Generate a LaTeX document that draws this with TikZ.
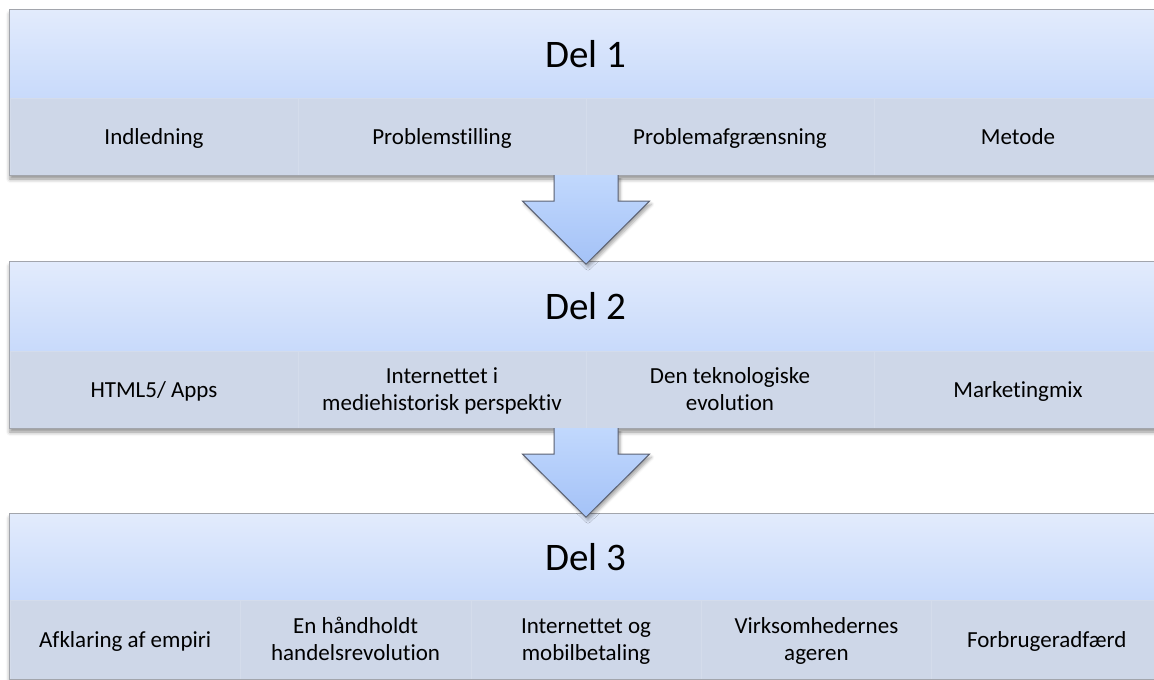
\documentclass[tikz,border=0pt]{standalone}
\usepackage{fontspec}
\setmainfont{Carlito}[Ligatures={NoCommon}]
\usetikzlibrary{shadows.blur,calc}

\definecolor{hdrtop}{HTML}{E2EBFC}
\definecolor{hdrbot}{HTML}{C8DAFB}
\definecolor{cellfill}{HTML}{CED7E8}
\definecolor{cellsep}{HTML}{D4DCEB}
\definecolor{framecol}{HTML}{A2A5AC}
\definecolor{arrtop}{HTML}{C1D8FD}
\definecolor{arrbot}{HTML}{A4C2F7}
\definecolor{arredge}{HTML}{5B6172}

\tikzset{
  panel/.style={minimum width=1152pt, inner sep=0pt, fill=white,
    blur shadow={shadow xshift=0pt, shadow yshift=-4pt,
                 shadow blur radius=4pt, shadow opacity=45}},
  frame/.style={draw=framecol, line width=1pt},
  header/.style={minimum width=1152pt, inner sep=0pt,
    top color=hdrtop, bottom color=hdrbot,
    font=\fontsize{39}{46}\selectfont},
  cell/.style={inner sep=0pt, fill=cellfill, draw=cellsep, line width=0.6pt,
    align=center, font=\fontsize{23}{27.5}\selectfont},
  label/.style={inner sep=0pt, align=center, yshift=-2pt,
    font=\fontsize{23}{27.5}\selectfont},
  downarrow/.style={draw=arredge, line width=1pt, line join=miter,
    top color=arrtop, bottom color=arrbot,
    blur shadow={shadow xshift=2pt, shadow yshift=-3pt,
                 shadow blur radius=3pt, shadow opacity=35}},
}

\begin{document}
\begin{tikzpicture}[x=1pt, y=-1pt]
\useasboundingbox (0,0) rectangle (1154,680);

% ---- Del 1 ----
\node[panel, minimum height=165pt] (p1) at (586,92.5) {};
\node[header, minimum height=88pt] (h1) at (586,54) {Del 1};
\foreach \i/\cx/\t in {1/154/Indledning, 2/442/Problemstilling,
                       3/730/Problemafgrænsning, 4/1018/Metode}{
  \node[cell, minimum width=288pt, minimum height=77pt] (c1\i) at (\cx,136.5) {};
  \node[label] (t1\i) at (c1\i) {\strut\t};
}
\draw[frame] (p1.north west) rectangle (p1.south east);

% ---- Del 2 ----
\node[panel, minimum height=166pt] (p2) at (586,345) {};
\node[header, minimum height=89pt] (h2) at (586,306.5) {Del 2};
\foreach \i/\cx/\t in {1/154/{HTML5/ Apps},
                       2/442/{Internettet i\\mediehistorisk perspektiv},
                       3/730/{Den teknologiske\\evolution},
                       4/1018/Marketingmix}{
  \node[cell, minimum width=288pt, minimum height=77pt] (c2\i) at (\cx,389.5) {};
  \node[label] (t2\i) at (c2\i) {\strut\t\strut};
}
\draw[frame] (p2.north west) rectangle (p2.south east);

% ---- Del 3 ----
\node[panel, minimum height=165pt] (p3) at (586,596.5) {};
\node[header, minimum height=86pt] (h3) at (586,557) {Del 3};
\foreach \i/\cx/\t in {1/125.2/{Afklaring af empiri},
                       2/355.6/{En håndholdt\\handelsrevolution},
                       3/586/{Internettet og\\mobilbetaling},
                       4/816.4/{Virksomhedernes\\ageren},
                       5/1046.8/Forbrugeradfærd}{
  \node[cell, minimum width=230.4pt, minimum height=79pt] (c3\i) at (\cx,639.5) {};
  \node[label] (t3\i) at (c3\i) {\strut\t\strut};
}
\draw[frame] (p3.north west) rectangle (p3.south east);

% ---- block arrows between the parts ----
\foreach \a/\b in {p1/p2, p2/p3}{
  \draw[downarrow]
    ($(\a.south)+(-32,0)$) -- ($(\a.south)+(-32,26)$)
    -- ($(\a.south)+(-63.5,26)$) -- ($(\a.south)+(0,89)$)
    -- ($(\a.south)+(63.5,26)$) -- ($(\a.south)+(32,26)$)
    -- ($(\a.south)+(32,0)$);
}
\end{tikzpicture}
\end{document}
